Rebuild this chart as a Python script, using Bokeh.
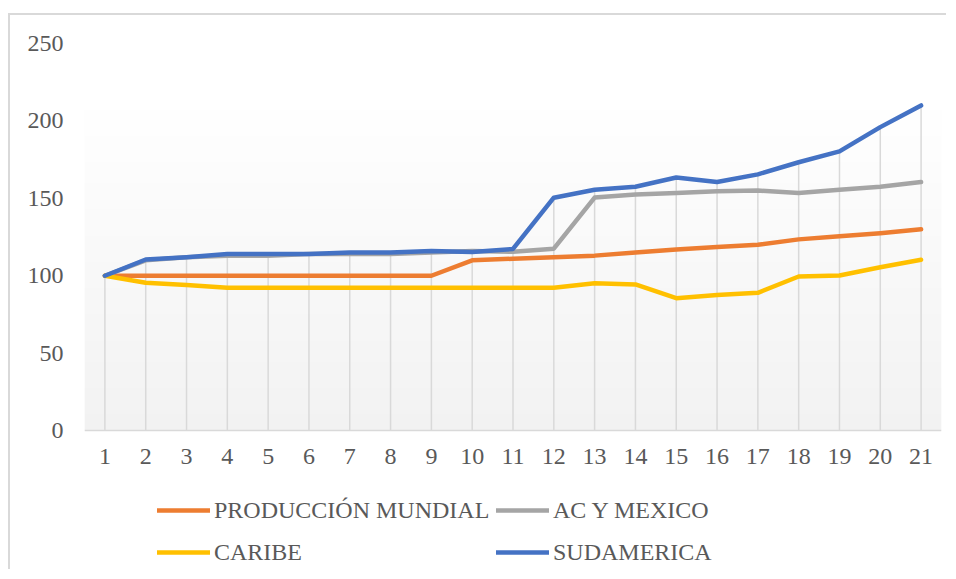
import numpy as np
from bokeh.plotting import figure
from bokeh.models import Range1d, FixedTicker, Legend, LegendItem, Spacer
from bokeh.layouts import column
from bokeh.embed import file_html
from bokeh.resources import INLINE

periods = list(range(1, 22))
produccion_mundial = [100, 100, 100, 100, 100, 100, 100, 100, 100, 110, 111, 112, 113, 115, 117, 118.5, 120, 123.5, 125.5, 127.5, 130]
ac_y_mexico = [100, 110, 112, 113, 113, 114, 114, 114, 115, 116, 115.5, 117.5, 150.5, 152.5, 153.5, 154.5, 155, 153.5, 155.5, 157.5, 160.5]
caribe = [100, 95.5, 94, 92.2, 92.2, 92.2, 92.2, 92.2, 92.2, 92.2, 92.2, 92.2, 95.2, 94.4, 85.5, 87.5, 89, 99.5, 100.2, 105.5, 110.3]
sudamerica = [100, 110.5, 112, 114, 114, 114, 115, 115, 116, 115.3, 117.3, 150.4, 155.5, 157.5, 163.5, 160.5, 165.5, 173.3, 180.3, 196, 210]
y_ticks = [0, 50, 100, 150, 200, 250]

names = ["PRODUCCIÓN MUNDIAL", "AC Y MEXICO", "CARIBE", "SUDAMERICA"]
colors = ["#ED7D31", "#A5A5A5", "#FFC000", "#4472C4"]
series = [produccion_mundial, ac_y_mexico, caribe, sudamerica]

FONT = "Liberation Serif"
TXT = "#595959"

# frame runs down to the bottom of the chart so the legend (inside the frame) is not clipped;
# the value axis still spans 0..250 and the category axis sits at y = 0
p = figure(width=938, height=556, output_backend="svg", toolbar_location=None,
           x_range=Range1d(0.5, 21.5), y_range=Range1d(-91, 250),
           min_border_left=74, min_border_right=7, min_border_top=28, min_border_bottom=0,
           styles={"border-top": "2px solid #d9d9d9", "border-left": "2px solid #d9d9d9",
                   "margin-left": "8px"})
p.outline_line_color = None
p.background_fill_color = "white"
p.border_fill_color = "white"
p.grid.visible = False

# plot-area gradient (white to light gray)
n = 64
grad = np.zeros((n, 1), dtype=np.uint32)
view = grad.view(dtype=np.uint8).reshape((n, 1, 4))
for i in range(n):
    t = i / (n - 1)
    c = int(round(242 + (255 - 242) * t))
    view[i, 0] = [c, c, c, 255]
p.image_rgba(image=[grad], x=0.5, y=0, dw=21, dh=217, level="image")

# drop lines from the highest series value down to the category axis
tops = [max(v) for v in zip(*series)]
p.segment(x0=periods, y0=[0] * len(periods), x1=periods, y1=tops,
          line_color="#d9d9d9", line_width=1.5)

p.xaxis.ticker = FixedTicker(ticks=periods)
p.yaxis.ticker = FixedTicker(ticks=y_ticks)
p.xaxis.fixed_location = 0

for ax in (p.xaxis, p.yaxis):
    ax.major_label_text_font = FONT
    ax.major_label_text_font_size = "24px"
    ax.major_label_text_color = TXT
    ax.major_tick_line_color = None
    ax.minor_tick_line_color = None
p.xaxis.axis_line_color = "#d9d9d9"
p.xaxis.axis_line_width = 1.5
p.yaxis.axis_line_color = None
p.xaxis.major_label_standoff = 12
p.yaxis.major_label_standoff = 15

renderers = []
for vals, col in zip(series, colors):
    r = p.line(periods, vals, line_color=col, line_width=4.5, line_cap="round", line_join="round")
    renderers.append(r)

def make_legend(idxs, x):
    lg = Legend(items=[LegendItem(label=names[i], renderers=[renderers[i]]) for i in idxs],
                orientation="vertical", location=(x, 4),
                label_text_font=FONT, label_text_font_size="24px", label_text_color=TXT,
                glyph_width=53, glyph_height=30, label_height=30,
                label_standoff=4, spacing=12, padding=0, margin=0,
                border_line_color=None, background_fill_alpha=0)
    p.add_layout(lg, "center")

make_legend([0, 2], 73)
make_legend([1, 3], 412)

layout = column(Spacer(height=13), p)
open("out.html", "w").write(file_html(layout, INLINE))
